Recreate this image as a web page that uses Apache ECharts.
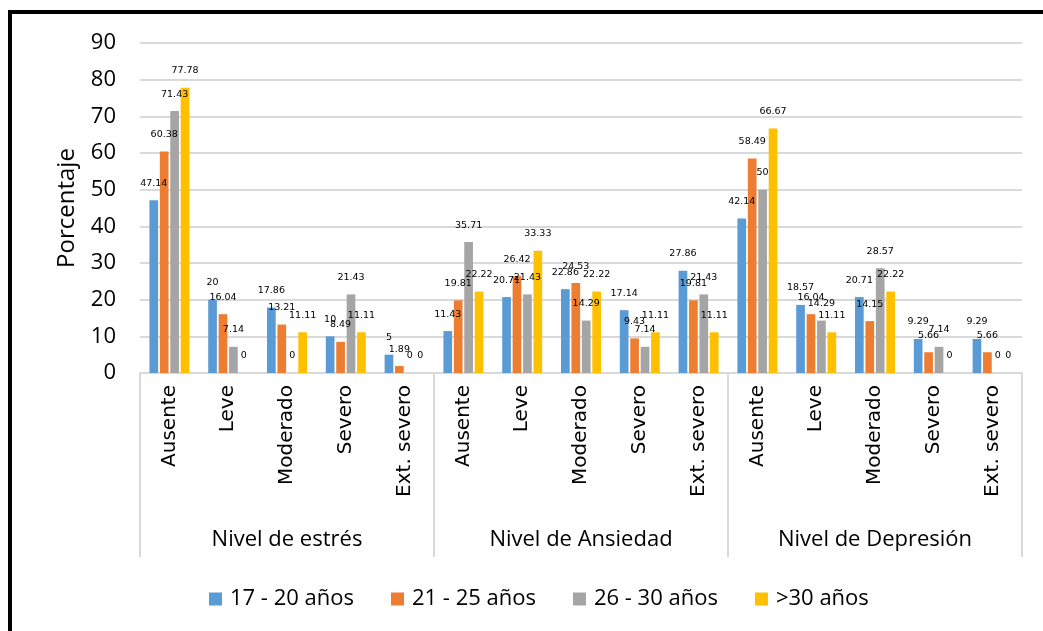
<!DOCTYPE html>
<html>
<head>
<meta charset="utf-8">
<script src="https://cdn.jsdelivr.net/npm/echarts@6/dist/echarts.min.js"></script>
<style>
  html, body { margin: 0; padding: 0; background: #fff; }
  #chart { width: 1043px; height: 631px; }
</style>
</head>
<body>
<div id="chart"></div>
<script>
// categorias (15 niveles en 3 grupos)
const niveles = ['Ausente', 'Leve', 'Moderado', 'Severo', 'Ext. severo']
const grupos = ['Nivel de estrés', 'Nivel de Ansiedad', 'Nivel de Depresión']
const categorias = [...niveles, ...niveles, ...niveles]

const series17a20 = [47.14, 20, 17.86, 10, 5, 11.43, 20.71, 22.86, 17.14, 27.86, 42.14, 18.57, 20.71, 9.29, 9.29]
const series21a25 = [60.38, 16.04, 13.21, 8.49, 1.89, 19.81, 26.42, 24.53, 9.43, 19.81, 58.49, 16.04, 14.15, 5.66, 5.66]
const series26a30 = [71.43, 7.14, 0, 21.43, 0, 35.71, 21.43, 14.29, 7.14, 21.43, 50, 14.29, 28.57, 7.14, 0]
const seriesMas30 = [77.78, 0, 11.11, 11.11, 0, 22.22, 33.33, 22.22, 11.11, 11.11, 66.67, 11.11, 22.22, 0, 0]

const nombres = ['17 - 20 años', '21 - 25 años', '26 - 30 años', '>30 años']
const colores = ['#5B9BD5', '#ED7D31', '#A5A5A5', '#FFC000']
const valores = [series17a20, series21a25, series26a30, seriesMas30]

const yTicks = { min: 0, max: 90, interval: 10 }

const chartDom = document.getElementById('chart')
const myChart = echarts.init(chartDom)

const font = 'Open Sans'

const option = {
    animation: false,
    color: colores,
    graphic: [
        {
            type: 'rect',
            shape: { x: 10, y: 12, width: 1200, height: 800 },
            style: { fill: 'none', stroke: '#000', lineWidth: 4 },
            z: 100,
        },
    ],
    grid: { left: 140, right: 21, top: 43, bottom: 258 },
    legend: {
        data: nombres,
        left: 204,
        top: 583,
        icon: 'rect',
        itemWidth: 13,
        itemHeight: 13,
        itemGap: 37,
        textStyle: { fontFamily: font, fontSize: 22, color: '#000', padding: [0, 0, 0, 3] },
    },
    xAxis: [
        {
            type: 'category',
            data: categorias,
            position: 'bottom',
            axisLine: { show: true, lineStyle: { color: '#d9d9d9', width: 2 } },
            axisTick: { show: false },
            axisLabel: {
                rotate: 90,
                interval: 0,
                margin: 12,
                fontFamily: 'DejaVu Sans',
                fontSize: 20,
                color: '#000',
            },
        },
        {
            type: 'category',
            data: grupos,
            position: 'bottom',
            axisLine: { show: false },
            axisTick: { show: true, length: 184, lineStyle: { color: '#d9d9d9', width: 2 } },
            axisLabel: {
                interval: 0,
                margin: 156,
                fontFamily: font,
                fontSize: 22,
                color: '#000',
            },
        },
    ],
    yAxis: {
        type: 'value',
        min: yTicks.min,
        max: yTicks.max,
        interval: yTicks.interval,
        name: 'Porcentaje',
        nameLocation: 'middle',
        nameGap: 61,
        nameTextStyle: { fontFamily: font, fontSize: 24, color: '#000' },
        axisLine: { show: false },
        axisTick: { show: false },
        axisLabel: { margin: 24, fontFamily: font, fontSize: 22, color: '#000' },
        splitLine: { lineStyle: { color: '#d9d9d9', width: 2 } },
    },
    series: nombres.map((nombre, i) => ({
        name: nombre,
        type: 'bar',
        xAxisIndex: 0,
        data: valores[i],
        barGap: '20%',
        barCategoryGap: '32%',
        label: {
            show: true,
            position: 'top',
            distance: 12,
            fontFamily: 'DejaVu Sans',
            fontSize: 9.5,
            color: '#000',
        },
    })),
}
myChart.setOption(option)
</script>
</body>
</html>
